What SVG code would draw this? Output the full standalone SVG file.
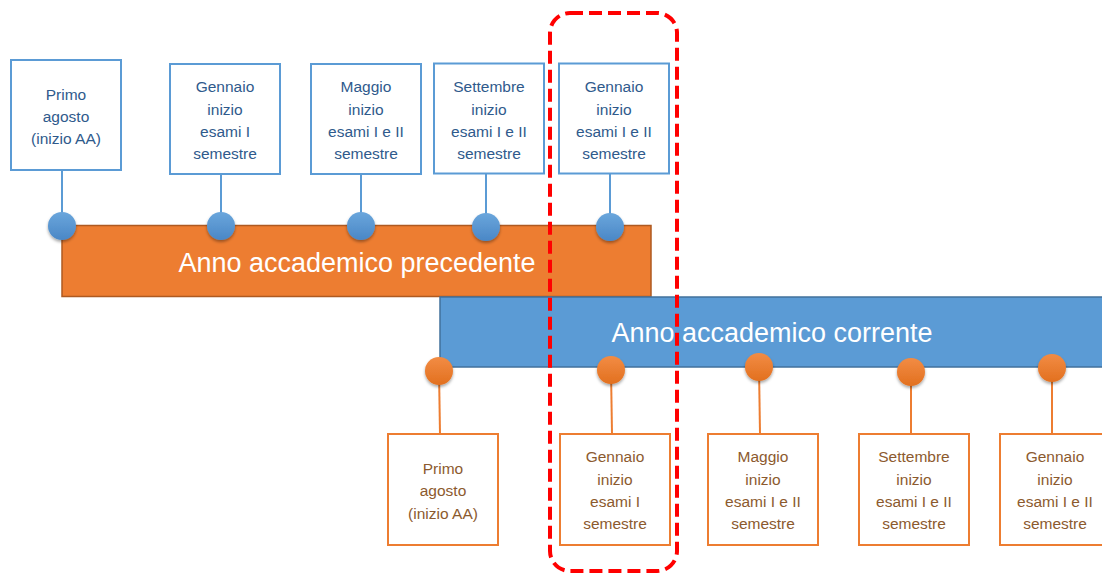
<svg xmlns="http://www.w3.org/2000/svg" width="1102" height="574" viewBox="0 0 1102 574">
<defs>
<linearGradient id="gb" x1="0" y1="0" x2="0" y2="1"><stop offset="0" stop-color="#6AA6DC"/><stop offset="1" stop-color="#4A87C6"/></linearGradient>
<linearGradient id="go" x1="0" y1="0" x2="0" y2="1"><stop offset="0" stop-color="#F28C44"/><stop offset="1" stop-color="#E2701F"/></linearGradient>
<filter id="sh" x="-50%" y="-50%" width="200%" height="200%"><feDropShadow dx="0" dy="2" stdDeviation="1.6" flood-color="#000" flood-opacity="0.35"/></filter>
<style>
.bt{fill:#fff;stroke:#5B9BD5;stroke-width:2}
.ot{fill:#fff;stroke:#ED7D31;stroke-width:2}
.tb{font-family:"Liberation Sans",Arial,sans-serif;font-size:15.5px;fill:#2F5A8C;text-anchor:middle}
.to{font-family:"Liberation Sans",Arial,sans-serif;font-size:15.5px;fill:#8C5A2E;text-anchor:middle}
.bar{font-family:"Liberation Sans",Arial,sans-serif;font-size:27px;fill:#fff;text-anchor:middle}
.cb{fill:url(#gb);filter:url(#sh)}
.co{fill:url(#go);filter:url(#sh)}
.lb{stroke:#5B9BD5;stroke-width:2;fill:none}
.lo{stroke:#ED7D31;stroke-width:2;fill:none}
</style>
</defs>
<rect width="1102" height="574" fill="#fff"/>

<g id="bar-precedente">
<rect x="62" y="225.5" width="589" height="71" fill="#ED7D31" stroke="#AE5A21" stroke-width="1.5"/>
<text class="bar" x="357" y="272">Anno accademico precedente</text>
</g>
<g id="bar-corrente">
<rect x="440" y="297" width="664" height="70" fill="#5B9BD5" stroke="#41719C" stroke-width="1.5"/>
<text class="bar" x="772" y="342">Anno accademico corrente</text>
</g>

<g id="connectors">
<line class="lb" x1="62" y1="171" x2="62" y2="226"/>
<line class="lb" x1="221" y1="174" x2="221" y2="226"/>
<line class="lb" x1="361" y1="174" x2="361" y2="226"/>
<line class="lb" x1="486" y1="173" x2="486" y2="227"/>
<line class="lb" x1="610" y1="173" x2="610" y2="227"/>
<line class="lo" x1="439" y1="371" x2="440" y2="434"/>
<line class="lo" x1="611" y1="370" x2="612" y2="434"/>
<line class="lo" x1="759" y1="367" x2="760" y2="434"/>
<line class="lo" x1="911" y1="372" x2="911" y2="434"/>
<line class="lo" x1="1052" y1="368" x2="1052" y2="434"/>
</g>

<g id="dots">
<circle class="cb" cx="62" cy="226" r="14"/>
<circle class="cb" cx="221" cy="226" r="14"/>
<circle class="cb" cx="361" cy="226" r="14"/>
<circle class="cb" cx="486" cy="227" r="14"/>
<circle class="cb" cx="610" cy="227" r="14"/>
<circle class="co" cx="439" cy="371" r="14"/>
<circle class="co" cx="611" cy="370" r="14"/>
<circle class="co" cx="759" cy="367" r="14"/>
<circle class="co" cx="911" cy="372" r="14"/>
<circle class="co" cx="1052" cy="368" r="14"/>
</g>

<g id="top-1">
<rect class="bt" x="11" y="60" width="110" height="110"/>
<text class="tb" x="66" y="99.5">Primo</text>
<text class="tb" x="66" y="121.5">agosto</text>
<text class="tb" x="66" y="144">(inizio AA)</text>
</g>
<g id="top-2">
<rect class="bt" x="170" y="64" width="110" height="110"/>
<text class="tb" x="225" y="92">Gennaio</text>
<text class="tb" x="225" y="114.5">inizio</text>
<text class="tb" x="225" y="137">esami I</text>
<text class="tb" x="225" y="159">semestre</text>
</g>
<g id="top-3">
<rect class="bt" x="311" y="64" width="110" height="110"/>
<text class="tb" x="366" y="92">Maggio</text>
<text class="tb" x="366" y="114.5">inizio</text>
<text class="tb" x="366" y="137">esami I e II</text>
<text class="tb" x="366" y="159">semestre</text>
</g>
<g id="top-4">
<rect class="bt" x="434" y="63.5" width="110" height="110"/>
<text class="tb" x="489" y="92">Settembre</text>
<text class="tb" x="489" y="114.5">inizio</text>
<text class="tb" x="489" y="137">esami I e II</text>
<text class="tb" x="489" y="159">semestre</text>
</g>
<g id="top-5">
<rect class="bt" x="559" y="63.5" width="110" height="110"/>
<text class="tb" x="614" y="92">Gennaio</text>
<text class="tb" x="614" y="114.5">inizio</text>
<text class="tb" x="614" y="137">esami I e II</text>
<text class="tb" x="614" y="159">semestre</text>
</g>

<g id="bot-1">
<rect class="ot" x="388" y="434" width="110" height="111"/>
<text class="to" x="443" y="474">Primo</text>
<text class="to" x="443" y="496">agosto</text>
<text class="to" x="443" y="518.5">(inizio AA)</text>
</g>
<g id="bot-2">
<rect class="ot" x="560" y="434" width="110" height="111"/>
<text class="to" x="615" y="462">Gennaio</text>
<text class="to" x="615" y="484.5">inizio</text>
<text class="to" x="615" y="507">esami I</text>
<text class="to" x="615" y="529">semestre</text>
</g>
<g id="bot-3">
<rect class="ot" x="708" y="434" width="110" height="111"/>
<text class="to" x="763" y="462">Maggio</text>
<text class="to" x="763" y="484.5">inizio</text>
<text class="to" x="763" y="507">esami I e II</text>
<text class="to" x="763" y="529">semestre</text>
</g>
<g id="bot-4">
<rect class="ot" x="859" y="434" width="110" height="111"/>
<text class="to" x="914" y="462">Settembre</text>
<text class="to" x="914" y="484.5">inizio</text>
<text class="to" x="914" y="507">esami I e II</text>
<text class="to" x="914" y="529">semestre</text>
</g>
<g id="bot-5">
<rect class="ot" x="1000" y="434" width="110" height="111"/>
<text class="to" x="1055" y="462">Gennaio</text>
<text class="to" x="1055" y="484.5">inizio</text>
<text class="to" x="1055" y="507">esami I e II</text>
<text class="to" x="1055" y="529">semestre</text>
</g>

<g id="highlight">
<rect x="550" y="13" width="127" height="558" rx="20" ry="20" fill="none" stroke="#FF0000" stroke-width="4" stroke-dasharray="13 6"/>
</g>
</svg>
